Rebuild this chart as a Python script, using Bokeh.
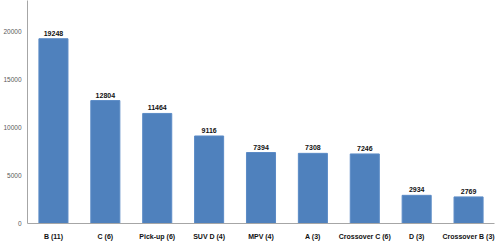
from bokeh.plotting import figure
from bokeh.models import ColumnDataSource, Range1d, FactorRange, FixedTicker
from bokeh.core.properties import value
from bokeh.embed import file_html
from bokeh.resources import INLINE

categories = ["B (11)", "C (6)", "Pick-up (6)", "SUV D (4)", "MPV (4)", "A (3)",
              "Crossover C (6)", "D (3)", "Crossover B (3)"]
values = [19248, 12804, 11464, 9116, 7394, 7308, 7246, 2934, 2769]
y_ticks = [0, 5000, 10000, 15000, 20000]

src = ColumnDataSource(dict(cat=categories, val=values, lab=[str(v) for v in values]))

p = figure(width=500, height=246, output_backend="svg", toolbar_location=None,
           x_range=FactorRange(*categories, range_padding=0), y_range=Range1d(0, 23230),
           min_border_left=26, min_border_right=6, min_border_top=0, min_border_bottom=23)
p.outline_line_color = None
p.background_fill_color = "white"
p.border_fill_color = "white"
p.xgrid.grid_line_color = None
p.ygrid.grid_line_color = None

p.vbar(x="cat", top="val", width=0.56, source=src, fill_color="#4F81BD",
       line_color="#5B8BC6", line_width=1)
p.text(x="cat", y="val", text="lab", source=src, text_align="center",
       text_baseline="bottom", y_offset=-3, text_font=value("Liberation Sans"),
       text_font_style="bold", text_font_size="7px", text_color="#111111")

p.yaxis.ticker = FixedTicker(ticks=y_ticks)
p.yaxis.major_tick_out = 0
p.yaxis.major_tick_in = 0
p.yaxis.minor_tick_line_color = None
p.yaxis.axis_line_color = "#a6a6a6"
p.yaxis.major_label_text_font = "Liberation Sans"
p.yaxis.major_label_text_font_size = "6.5px"
p.yaxis.major_label_text_color = "#595959"
p.yaxis.major_label_standoff = 6

p.xaxis.major_tick_out = 0
p.xaxis.major_tick_in = 0
p.xaxis.axis_line_color = "#a6a6a6"
p.xaxis.major_label_text_font = "Liberation Sans"
p.xaxis.major_label_text_font_style = "bold"
p.xaxis.major_label_text_font_size = "7px"
p.xaxis.major_label_text_color = "#111111"
p.xaxis.major_label_standoff = 9

open("out.html", "w").write(file_html(p, INLINE))
